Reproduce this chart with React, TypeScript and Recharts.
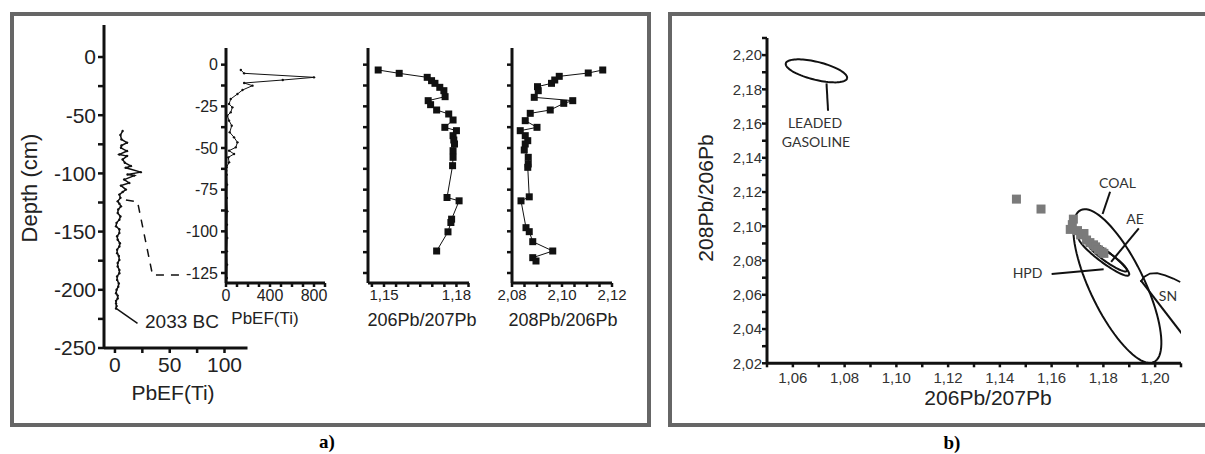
import React from 'react';
import { ScatterChart, Scatter, XAxis, YAxis } from 'recharts';

// ---- a) long core, PbEF(Ti) vs depth (cm)
const deepDepth = [-63.6, -67, -70.8, -73.6, -76, -78, -80.8, -83.7, -85.1, -88, -90.8, -93.7, -95.2, -98.9, -101, -101.9, -105.3, -108.2, -110.5, -113.9, -116, -118.2, -121, -124, -126, -128.3, -131, -134, -137, -139.8, -142.5, -145.5, -148, -151.3, -154, -157, -160, -162.8, -165.5, -168.5, -171, -174.3, -177, -180, -183, -185.8, -188.5, -191.5, -194.5, -197.3, -200, -203, -205, -207.4, -209.5, -211.7, -214, -216];
const deepPbEF = [7, 5, 6, 11, 6, 5.5, 11, 4, 11, 7, 9, 14.5, 10, 23.6, 11.5, 17.6, 8.5, 13, 5.5, 10, 7, 4, 5, 2.5, 4, 5.5, 3, 2.5, 5, 4, 1.5, 1, 4, 4, 2, 2.5, 4.5, 4, 2, 2, 3.5, 4, 2.5, 2.5, 4, 4, 2, 2, 3.5, 3, 1.5, 1, 2.5, 2.5, 1, 1, 1.5, 1];
const linkDepth = [-122.9, -124.3, -187.3, -187.3];
const linkPbEF = [10, 20.6, 34.3, 60];
const bcDepth = [-216, -228.8];
const bcPbEF = [1, 20.6];

// ---- a) upper core, PbEF(Ti)
const topDepth = [-3.2, -5.2, -7.6, -9.2, -11, -12.6, -15.2, -17.6, -20.6, -23.6, -25.6, -28.6, -30.6, -33.6, -36.6, -40.6, -43.6, -46.6, -49.6, -51.6, -53.6, -55.6, -58.6, -61.6, -63.6, -66, -72, -80, -88, -96, -104, -112, -120, -128, -131];
const topPbEF = [135, 165, 800, 516, 165, 241, 150, 104, 43, 28, 58, 43, 12, 28, 52, 34, 73, 104, 89, 28, 73, 21, 28, 5, 2, 6, 10, 8, 12, 9, 11, 8, 10, 8, 6];

// ---- a) 206Pb/207Pb profile
const isoDepthA = [-3.2, -5.2, -7.6, -9.6, -11.2, -13.6, -15.6, -19.2, -21.6, -24, -27.2, -29.6, -33.2, -37.6, -39.6, -42.6, -45.2, -47.6, -51.6, -55.6, -60.6, -79.7, -81.7, -92.7, -94.7, -100.3, -111.8];
const ratio206207 = [1.1476, 1.1563, 1.1679, 1.1697, 1.1711, 1.1731, 1.1748, 1.1753, 1.1683, 1.1693, 1.1718, 1.1768, 1.1786, 1.1752, 1.18, 1.1786, 1.1789, 1.1792, 1.1786, 1.1786, 1.1784, 1.1761, 1.1811, 1.178, 1.1777, 1.1765, 1.1718];

// ---- a) 208Pb/206Pb profile
const isoDepthB = [-3.2, -5, -7, -9.2, -11.2, -13.2, -15.6, -19.6, -21.6, -23.2, -27.2, -29.2, -33.6, -37.6, -39.6, -42.6, -45.6, -47.6, -51.2, -55.6, -59.6, -61.6, -79.3, -81.7, -97.8, -100.2, -106.2, -111.8, -115.8, -117.8];
const ratio208206 = [2.1163, 2.1105, 2.0989, 2.0971, 2.0958, 2.0902, 2.0905, 2.0889, 2.1043, 2.1007, 2.0953, 2.0873, 2.0853, 2.09, 2.0833, 2.0853, 2.0863, 2.0853, 2.0849, 2.0865, 2.0865, 2.0863, 2.0869, 2.0836, 2.0856, 2.0869, 2.0883, 2.0963, 2.0883, 2.0896];

// ---- b) samples
const sampleX = [1.1464, 1.1559, 1.1684, 1.168, 1.1672, 1.17, 1.1712, 1.1725, 1.1735, 1.1748, 1.1762, 1.177, 1.1781, 1.1795, 1.1802];
const sampleY = [2.1159, 2.1101, 2.1042, 2.101, 2.0982, 2.0975, 2.095, 2.0958, 2.092, 2.0905, 2.0892, 2.088, 2.0862, 2.085, 2.0842];

// ---- b) source fields: centre + two semi-axis vectors
const fieldCx = [1.0691, 1.1854, 1.1802, 1.1817];
const fieldCy = [2.1908, 2.0651, 2.0826, 2.0818];
const fieldAx = [0.01184, 0.01416, 0.0097, 0.00737];
const fieldAy = [-0.00438, -0.04437, -0.0111, -0.00788];
const fieldBx = [0.000834, 0.00943, 0.00141, 0.00101];
const fieldBy = [0.0051, 0.00689, 0.00279, 0.00214];

const snCurveX = [1.1944, 1.1957, 1.198, 1.2008, 1.2039, 1.207, 1.2097];
const snCurveY = [2.0675, 2.0704, 2.0724, 2.0727, 2.0713, 2.0695, 2.0675];
const snLineX = [1.1944, 1.2105];
const snLineY = [2.0686, 2.037];

const leaderX = [[1.073, 1.0736], [1.1826, 1.1797], [1.1937, 1.183], [1.16, 1.1801]];
const leaderY = [[2.1835, 2.1675], [2.1202, 2.1072], [2.0988, 2.0793], [2.0721, 2.0749]];

// ---- ticks
const deepYTicks = [-250, -225, -200, -175, -150, -125, -100, -75, -50, -25, 0];
const deepYLabels = [-250, -200, -150, -100, -50, 0];
const deepXTicks = [0, 25, 50, 75, 100];
const deepXLabels = [0, 50, 100];
const topYTicks = [-125, -112.5, -100, -87.5, -75, -62.5, -50, -37.5, -25, -12.5, 0];
const topYLabels = [-125, -100, -75, -50, -25, 0];
const topXTicks = [0, 100, 200, 300, 400, 500, 600, 700, 800, 900];
const topXLabels = [0, 400, 800];
const r67Ticks = [1.145, 1.15, 1.155, 1.16, 1.165, 1.17, 1.175, 1.18, 1.185];
const r67Labels = [1.15, 1.18];
const r86Ticks = [2.08, 2.085, 2.09, 2.095, 2.1, 2.105, 2.11, 2.115, 2.12];
const r86Labels = [2.08, 2.1, 2.12];
const bXTicks = [1.05, 1.06, 1.07, 1.08, 1.09, 1.1, 1.11, 1.12, 1.13, 1.14, 1.15, 1.16, 1.17, 1.18, 1.19, 1.2, 1.21];
const bXLabels = [1.06, 1.08, 1.1, 1.12, 1.14, 1.16, 1.18, 1.2];
const bYTicks = [2.02, 2.03, 2.04, 2.05, 2.06, 2.07, 2.08, 2.09, 2.1, 2.11, 2.12, 2.13, 2.14, 2.15, 2.16, 2.17, 2.18, 2.19, 2.2, 2.21];
const bYLabels = [2.02, 2.04, 2.06, 2.08, 2.1, 2.12, 2.14, 2.16, 2.18, 2.2];

const INK = '#111';
const SANS = '"Liberation Sans", Arial, sans-serif';

const pairs = (xs: number[], ys: number[]) => xs.map((x, i) => ({ x, y: ys[i] }));

const ellipse = (i: number) => {
  const pts = [];
  for (let k = 0; k <= 90; k++) {
    const t = (k / 90) * Math.PI * 2;
    pts.push({
      x: fieldCx[i] + fieldAx[i] * Math.cos(t) + fieldBx[i] * Math.sin(t),
      y: fieldCy[i] + fieldAy[i] * Math.cos(t) + fieldBy[i] * Math.sin(t),
    });
  }
  return pts;
};

const fmt = (shown: number[], digits: number, comma: boolean) => (v: number) => {
  if (!shown.some((s) => Math.abs(s - v) < 1e-9)) return '';
  const s = v.toFixed(digits);
  return comma ? s.replace('.', ',') : s;
};

const Square = (props: any) => (
  <rect x={props.cx - 3.5} y={props.cy - 3.5} width={7} height={7} fill={INK} />
);
const GraySquare = (props: any) => (
  <rect x={props.cx - 4.5} y={props.cy - 4.5} width={9} height={9} fill="#7a7a7a" />
);
const Dot = (props: any) => <circle cx={props.cx} cy={props.cy} r={1.2} fill={INK} />;
const Nothing = () => <g />;

interface PlotProps {
  left: number;
  top: number;
  w: number;
  h: number;
  yW: number;
  xH: number;
  xDomain: [number, number];
  yDomain: [number, number];
  xTicks: number[];
  yTicks: number[];
  xFmt: (v: number) => string;
  yFmt: (v: number) => string;
  font: number;
  xTickSize: number;
  yTickSize: number;
  xMargin: number;
  yMargin: number;
  fill?: string;
  series: React.ReactNode[];
}

const Plot = (p: PlotProps) => {
  const mt = 8;
  const mr = 24;
  const tick = { fontSize: p.font, fill: p.fill || '#222', fontFamily: SANS };
  return (
    <div style={{ position: 'absolute', left: p.left - p.yW, top: p.top - mt }}>
      <ScatterChart
        width={p.yW + p.w + mr}
        height={mt + p.h + p.xH}
        margin={{ top: mt, right: mr, bottom: 0, left: 0 }}
      >
        <XAxis
          type="number"
          dataKey="x"
          domain={p.xDomain}
          ticks={p.xTicks}
          interval={0}
          allowDataOverflow
          height={p.xH}
          tickFormatter={p.xFmt}
          tick={tick}
          tickSize={p.xTickSize}
          tickMargin={p.xMargin}
          axisLine={{ stroke: INK, strokeWidth: 3 }}
          tickLine={{ stroke: INK, strokeWidth: 2.5 }}
        />
        <YAxis
          type="number"
          dataKey="y"
          domain={p.yDomain}
          ticks={p.yTicks}
          interval={0}
          allowDataOverflow
          width={p.yW}
          tickFormatter={p.yFmt}
          tick={tick}
          tickSize={p.yTickSize}
          tickMargin={p.yMargin}
          axisLine={{ stroke: INK, strokeWidth: 3 }}
          tickLine={{ stroke: INK, strokeWidth: 2.5 }}
        />
        {p.series}
      </ScatterChart>
    </div>
  );
};

const Text = ({ x, y, size, children, rotate, family, weight, color }: any) => (
  <div
    style={{
      position: 'absolute',
      left: x,
      top: y,
      transform: `translate(-50%, -50%)${rotate ? ' rotate(-90deg)' : ''}`,
      fontSize: size,
      fontFamily: family || SANS,
      fontWeight: weight || 'normal',
      color: color || '#222',
      whiteSpace: 'nowrap',
      lineHeight: 1,
    }}
  >
    {children}
  </div>
);

export default function App() {
  const depthLine = { stroke: INK, strokeWidth: 1 };
  return (
    <div
      style={{
        position: 'absolute',
        left: 0,
        top: 0,
        width: 1205,
        height: 454,
        overflow: 'hidden',
        background: '#fff',
      }}
    >
      <div style={{ position: 'absolute', left: 10, top: 12, width: 641, height: 415, border: '4px solid #666', boxSizing: 'border-box' }} />
      <div style={{ position: 'absolute', left: 668, top: 12, width: 545, height: 415, border: '4px solid #666', boxSizing: 'border-box' }} />

      {/* a) long core */}
      <Plot
        left={103.5}
        top={25}
        w={143.5}
        h={323}
        yW={100}
        xH={60}
        xDomain={[-10, 121]}
        yDomain={[-250, 27.5]}
        xTicks={deepXTicks}
        yTicks={deepYTicks}
        xFmt={fmt(deepXLabels, 0, false)}
        yFmt={fmt(deepYLabels, 0, false)}
        font={21}
        xTickSize={5}
        yTickSize={6}
        xMargin={4}
        yMargin={2}
        series={[
          <Scatter key="deep" data={pairs(deepPbEF, deepDepth)} line={{ stroke: INK, strokeWidth: 1.5 }} shape={Dot} isAnimationActive={false} />,
          <Scatter key="link" data={pairs(linkPbEF, linkDepth)} line={{ stroke: INK, strokeWidth: 1.5, strokeDasharray: '8 7' }} shape={Nothing} isAnimationActive={false} />,
          <Scatter key="bc" data={pairs(bcPbEF, bcDepth)} line={{ stroke: INK, strokeWidth: 1.5 }} shape={Nothing} isAnimationActive={false} />,
        ]}
      />

      {/* a) upper core PbEF */}
      <Plot
        left={226}
        top={48}
        w={99}
        h={235}
        yW={60}
        xH={40}
        xDomain={[0, 900]}
        yDomain={[-131, 10]}
        xTicks={topXTicks}
        yTicks={topYTicks}
        xFmt={fmt(topXLabels, 0, false)}
        yFmt={fmt(topYLabels, 0, false)}
        font={16}
        xTickSize={4}
        yTickSize={5}
        xMargin={3}
        yMargin={3}
        series={[
          <Scatter key="top" data={pairs(topPbEF, topDepth)} line={depthLine} shape={Dot} isAnimationActive={false} />,
        ]}
      />

      {/* a) 206Pb/207Pb */}
      <Plot
        left={368}
        top={48}
        w={101}
        h={235}
        yW={30}
        xH={40}
        xDomain={[1.14338, 1.1852]}
        yDomain={[-131, 10]}
        xTicks={r67Ticks}
        yTicks={topYTicks}
        xFmt={fmt(r67Labels, 2, true)}
        yFmt={() => ''}
        font={15}
        xTickSize={4}
        yTickSize={5}
        xMargin={2}
        yMargin={2}
        series={[
          <Scatter key="r67" data={pairs(ratio206207, isoDepthA)} line={depthLine} shape={Square} isAnimationActive={false} />,
        ]}
      />

      {/* a) 208Pb/206Pb */}
      <Plot
        left={512}
        top={48}
        w={100}
        h={235}
        yW={30}
        xH={40}
        xDomain={[2.08, 2.12]}
        yDomain={[-131, 10]}
        xTicks={r86Ticks}
        yTicks={topYTicks}
        xFmt={fmt(r86Labels, 2, true)}
        yFmt={() => ''}
        font={15}
        xTickSize={4}
        yTickSize={5}
        xMargin={2}
        yMargin={2}
        series={[
          <Scatter key="r86" data={pairs(ratio208206, isoDepthB)} line={depthLine} shape={Square} isAnimationActive={false} />,
        ]}
      />

      {/* b) three-isotope plot */}
      <Plot
        left={766.5}
        top={38}
        w={414}
        h={325.3}
        yW={60}
        xH={40}
        xDomain={[1.05, 1.21]}
        yDomain={[2.02, 2.21]}
        xTicks={bXTicks}
        yTicks={bYTicks}
        xFmt={fmt(bXLabels, 2, true)}
        yFmt={fmt(bYLabels, 2, true)}
        font={15}
        xTickSize={4}
        yTickSize={5}
        xMargin={5}
        yMargin={0}
        fill="#333"
        series={[
          ...fieldCx.map((_, i) => (
            <Scatter key={'f' + i} data={ellipse(i)} line={{ stroke: INK, strokeWidth: 2 }} shape={Nothing} isAnimationActive={false} />
          )),
          <Scatter key="snc" data={pairs(snCurveX, snCurveY)} line={{ stroke: INK, strokeWidth: 1.8 }} lineType="joint" shape={Nothing} isAnimationActive={false} />,
          <Scatter key="snl" data={pairs(snLineX, snLineY)} line={{ stroke: INK, strokeWidth: 2 }} shape={Nothing} isAnimationActive={false} />,
          ...leaderX.map((xs, i) => (
            <Scatter key={'l' + i} data={pairs(xs, leaderY[i])} line={{ stroke: INK, strokeWidth: 2 }} shape={Nothing} isAnimationActive={false} />
          )),
          <Scatter key="samples" data={pairs(sampleX, sampleY)} shape={GraySquare} isAnimationActive={false} />,
        ]}
      />

      <Text x={30} y={188} size={22} rotate>Depth (cm)</Text>
      <Text x={173} y={392} size={21}>PbEF(Ti)</Text>
      <Text x={182} y={321} size={19}>2033 BC</Text>
      <Text x={265} y={318} size={17}>PbEF(Ti)</Text>
      <Text x={422} y={320} size={18}>206Pb/207Pb</Text>
      <Text x={563} y={320} size={18}>208Pb/206Pb</Text>
      <Text x={327} y={441} size={19} weight="bold" family='"Liberation Serif", serif' color="#000">a)</Text>
      <Text x={952} y={442} size={19} weight="bold" family='"Liberation Serif", serif' color="#000">b)</Text>

      <Text x={705} y={198} size={21} rotate>208Pb/206Pb</Text>
      <Text x={988} y={397} size={21}>206Pb/207Pb</Text>
      <Text x={815} y={122.5} size={14} family="Lato, sans-serif" color="#333">LEADED</Text>
      <Text x={816} y={142} size={14} family="Lato, sans-serif" color="#333">GASOLINE</Text>
      <Text x={1117.5} y={182.5} size={14} family="Lato, sans-serif" color="#333">COAL</Text>
      <Text x={1135} y={219} size={14} family="Lato, sans-serif" color="#333">AE</Text>
      <Text x={1027.5} y={272.5} size={14} family="Lato, sans-serif" color="#333">HPD</Text>
      <Text x={1168} y={296} size={14} family="Lato, sans-serif" color="#333">SN</Text>
    </div>
  );
}
